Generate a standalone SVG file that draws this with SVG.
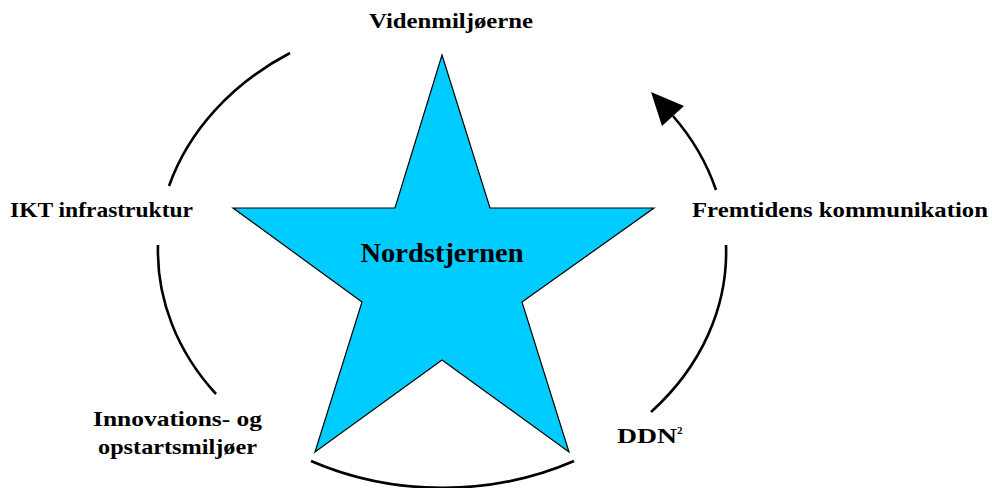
<svg xmlns="http://www.w3.org/2000/svg" width="992" height="488" viewBox="0 0 992 488">
<style>
.lbl{font-family:"Liberation Serif","Times New Roman",serif;font-weight:bold;font-size:22px;fill:#000}
.arc{fill:none;stroke:#000;stroke-width:2.6}
</style>
<rect width="992" height="488" fill="#fff"/>
<g id="connectors">
<path class="arc" d="M290,53 A284,236 0 0 0 169,186"/>
<path class="arc" d="M158,245 A284,236 0 0 0 216,394"/>
<path class="arc" d="M311,461 A284,236 0 0 0 574,461"/>
<path class="arc" d="M651,412 A284,236 0 0 0 726,245"/>
<path class="arc" d="M716,190 A284,236 0 0 0 673,116"/>
<polygon points="651,92 684,106 662,126" fill="#000"/>
</g>
<g id="nordstjernen">
<polygon points="442,55 490,208 654,208 522,302 569,452 442,360 315,452 362,302 233,208 395,208" fill="#00CCFF" stroke="#000" stroke-width="1.2" stroke-linejoin="miter"/>
<text class="lbl" x="442" y="262" text-anchor="middle" style="font-size:27px" textLength="163" lengthAdjust="spacingAndGlyphs">Nordstjernen</text>
</g>
<g id="videnmiljoerne">
<text class="lbl" x="451" y="28" text-anchor="middle" textLength="164" lengthAdjust="spacingAndGlyphs">Videnmiljøerne</text>
</g>
<g id="ikt">
<text class="lbl" x="10" y="217" textLength="183" lengthAdjust="spacingAndGlyphs">IKT infrastruktur</text>
</g>
<g id="fremtidens">
<text class="lbl" x="692" y="217" textLength="296" lengthAdjust="spacingAndGlyphs">Fremtidens kommunikation</text>
</g>
<g id="innovation">
<text class="lbl" x="93" y="426" textLength="169" lengthAdjust="spacingAndGlyphs">Innovations- og</text>
<text class="lbl" x="98" y="454" textLength="159" lengthAdjust="spacingAndGlyphs">opstartsmiljøer</text>
</g>
<g id="ddn">
<text class="lbl" x="617" y="443"><tspan textLength="60" lengthAdjust="spacingAndGlyphs">DDN</tspan><tspan style="font-size:11px" dy="-9">2</tspan></text>
</g>
</svg>
